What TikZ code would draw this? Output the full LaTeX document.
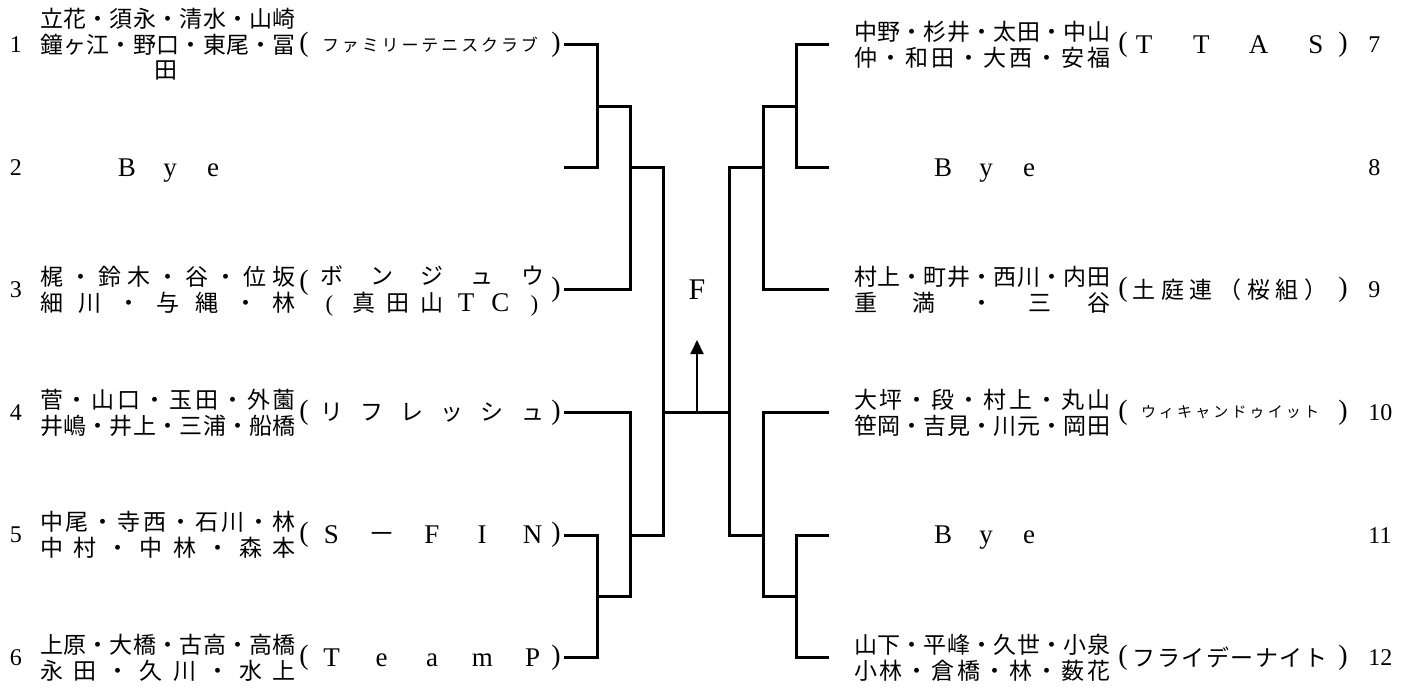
\documentclass[tikz,border=0pt]{standalone}
\usepackage{fontspec}
\setmainfont{Liberation Serif}
\newfontfamily\jp{Noto Sans CJK JP}
\usetikzlibrary{arrows.meta}
\makeatletter
\def\spreadit#1{\spread@a#1\@nil}
\def\spread@a#1{\ifx\@nil#1\else#1\expandafter\spread@b\fi}
\def\spread@b#1{\ifx\@nil#1\else\hfill#1\expandafter\spread@b\fi}
\def\spreadw#1{\spread@c#1\@nil}
\def\spread@c#1{\ifx\@nil#1\else\hbox to 11.5pt{\hss#1\hss}\expandafter\spread@d\fi}
\def\spread@d#1{\ifx\@nil#1\else\hfill\hbox to 11.5pt{\hss#1\hss}\expandafter\spread@d\fi}
\makeatother
\newcommand\latf{\rmfamily\fontsize{13.5}{15}\selectfont}
\newcommand\latp{\rmfamily\fontsize{11.5}{13}\selectfont}
\newcommand\lnames[3]{\node[jpf] (#1) at (168,#2) {\makebox[128pt][s]{\spreadit{#3}}};}
\newcommand\rnames[3]{\node[jpf] (#1) at (982,#2) {\makebox[128pt][s]{\spreadit{#3}}};}
\newcommand\lteam[3]{\node[jpf] (#1) at (432,#2) {\makebox[112pt][s]{\spreadit{#3}}};}
\newcommand\rteam[3]{\node[jpf] (#1) at (1230,#2) {\makebox[97.5pt][s]{\spreadit{#3}}};}
\tikzset{
  jpf/.style={font=\jp\fontsize{11.5}{13}\selectfont, inner sep=0pt},
  jps/.style={font=\jp\fontsize{8.5}{10}\selectfont, inner sep=0pt},
  jpxs/.style={font=\jp\fontsize{7.5}{9}\selectfont, inner sep=0pt},
  lat/.style={font=\latf, inner sep=0pt},
  num/.style={font=\fontsize{12}{14}\selectfont, inner sep=0pt},
  paren/.style={font=\fontsize{14}{16}\selectfont, inner sep=0pt},
  bk/.style={line width=1.5pt},
  arr/.style={line width=1pt, -{Triangle[width=6.5pt,length=7pt]}},
}
\begin{document}
\begin{tikzpicture}[x=0.5pt,y=-0.5pt]
\useasboundingbox (0,0) rectangle (1407,686);
% ---------- left numbers
\node[num] (n1) at (16,44.7) {1};
\node[num] (n2) at (16,167.3) {2};
\node[num] (n3) at (16,289.9) {3};
\node[num] (n4) at (16,412.5) {4};
\node[num] (n5) at (16,535.1) {5};
\node[num] (n6) at (16,657.7) {6};
% ---------- right numbers
\node[num,anchor=west] (n7) at (1368,44.7) {7};
\node[num,anchor=west] (n8) at (1368,167.3) {8};
\node[num,anchor=west] (n9) at (1368,289.9) {9};
\node[num,anchor=west] (n10) at (1368,412.5) {10};
\node[num,anchor=west] (n11) at (1368,535.1) {11};
\node[num,anchor=west] (n12) at (1368,657.7) {12};
% ---------- entry 1
\lnames{a1}{18.7}{立花・須永・清水・山崎}
\lnames{b1}{44.7}{鐘ヶ江・野口・東尾・冨}
\node[jpf] (c1) at (166,70.7) {田};
\node[paren] (p1) at (304,44.7) {(};
\node[jps] (t1) at (430,44.7) {\makebox[108pt][s]{\spreadit{ファミリーテニスクラブ}}};
\node[paren] (q1) at (556,44.7) {)};
% ---------- entry 2
\node[lat,anchor=base] (by2a) at (127,176) {B};
\node[lat,anchor=base] (by2b) at (170,176) {y};
\node[lat,anchor=base] (by2c) at (213,176) {e};
% ---------- entry 3
\lnames{a3}{276.9}{梶・鈴木・谷・位坂}
\lnames{b3}{302.9}{細川・与縄・林}
\node[paren] (p3) at (304,283) {(};
\lteam{t3}{276}{ボンジュウ}
\node[jpf] (u3) at (432,304.5) {\makebox[114pt][s]{\hbox to 11.5pt{\hss\latp(\hss}\hfill 真\hfill 田\hfill 山\hfill\hbox to 11.5pt{\hss\latf T\hss}\hfill\hbox to 11.5pt{\hss\latf C\hss}\hfill\hbox to 11.5pt{\hss\latp)\hss}}};
\node[paren] (q3) at (556,289.9) {)};
% ---------- entry 4
\lnames{a4}{399.5}{菅・山口・玉田・外薗}
\lnames{b4}{425.5}{井嶋・井上・三浦・船橋}
\node[paren] (p4) at (304,412.5) {(};
\lteam{t4}{412.5}{リフレッシュ}
\node[paren] (q4) at (556,412.5) {)};
% ---------- entry 5
\lnames{a5}{522.1}{中尾・寺西・石川・林}
\lnames{b5}{548.1}{中村・中林・森本}
\node[paren] (p5) at (304,535.1) {(};
\node[lat] (t5) at (432,535.1) {\makebox[112pt][s]{\spreadw{S{\jp －}FIN}}};
\node[paren] (q5) at (556,535.1) {)};
% ---------- entry 6
\lnames{a6}{644.7}{上原・大橋・古高・高橋}
\lnames{b6}{670.7}{永田・久川・水上}
\node[paren] (p6) at (304,657.7) {(};
\node[lat] (t6) at (432,657.7) {\makebox[112pt][s]{\spreadw{TeamP}}};
\node[paren] (q6) at (556,657.7) {)};
% ---------- entry 7
\rnames{a7}{31.7}{中野・杉井・太田・中山}
\rnames{b7}{57.7}{仲・和田・大西・安福}
\node[paren] (p7) at (1123,44.7) {(};
\node[lat] (t7) at (1230,44.7) {\makebox[97.5pt][s]{\spreadw{TTAS}}};
\node[paren] (q7) at (1343,44.7) {)};
% ---------- entry 8
\node[lat,anchor=base] (by8a) at (943,176) {B};
\node[lat,anchor=base] (by8b) at (986,176) {y};
\node[lat,anchor=base] (by8c) at (1029,176) {e};
% ---------- entry 9
\rnames{a9}{276.9}{村上・町井・西川・内田}
\rnames{b9}{302.9}{重満・三谷}
\node[paren] (p9) at (1123,289.9) {(};
\rteam{t9}{289.9}{土庭連（桜組）}
\node[paren] (q9) at (1343,289.9) {)};
% ---------- entry 10
\rnames{a10}{399.5}{大坪・段・村上・丸山}
\rnames{b10}{425.5}{笹岡・吉見・川元・岡田}
\node[paren] (p10) at (1123,412.5) {(};
\node[jpxs] (t10) at (1230,412.5) {\makebox[89pt][s]{\spreadit{ウィキャンドゥイット}}};
\node[paren] (q10) at (1343,412.5) {)};
% ---------- entry 11
\node[lat,anchor=base] (by11a) at (943,543.8) {B};
\node[lat,anchor=base] (by11b) at (986,543.8) {y};
\node[lat,anchor=base] (by11c) at (1029,543.8) {e};
% ---------- entry 12
\rnames{a12}{644.7}{山下・平峰・久世・小泉}
\rnames{b12}{670.7}{小林・倉橋・林・薮花}
\node[paren] (p12) at (1123,657.7) {(};
\rteam{t12}{657.7}{フライデーナイト}
\node[paren] (q12) at (1343,657.7) {)};
% ---------- bracket end points
\coordinate (e1) at (564,44.7);
\coordinate (e2) at (564,167.3);
\coordinate (e3) at (564,289.9);
\coordinate (e4) at (564,412.5);
\coordinate (e5) at (564,535.1);
\coordinate (e6) at (564,657.7);
\coordinate (e7) at (829,44.7);
\coordinate (e8) at (829,167.3);
\coordinate (e9) at (829,289.9);
\coordinate (e10) at (829,412.5);
\coordinate (e11) at (829,535.1);
\coordinate (e12) at (829,657.7);
% left bracket
\draw[bk] (e1) -- (597,44.7) -- (597,167.3) -- (e2);
\draw[bk] (597,106) -- (630,106) -- (630,289.9) -- (e3);
\draw[bk] (630,167.3) -- (663,167.3) -- (663,535.1) -- (630,535.1);
\draw[bk] (e4) -- (630,412.5) -- (630,596.4) -- (597,596.4);
\draw[bk] (e5) -- (597,535.1) -- (597,657.7) -- (e6);
% right bracket
\draw[bk] (e7) -- (796,44.7) -- (796,167.3) -- (e8);
\draw[bk] (796,106) -- (763,106) -- (763,289.9) -- (e9);
\draw[bk] (763,167.3) -- (729,167.3) -- (729,535.1) -- (763,535.1);
\draw[bk] (e10) -- (763,412.5) -- (763,596.4) -- (796,596.4);
\draw[bk] (e11) -- (796,535.1) -- (796,657.7) -- (e12);
% final
\coordinate (fl) at (663,412.5);
\coordinate (fr) at (729,412.5);
\draw[bk] (fl) -- (fr);
\node[font=\fontsize{15}{17}\selectfont, inner sep=0pt] (F) at (697,290) {F};
\coordinate (a0) at (697,411);
\coordinate (a1) at (697,340);
\draw[arr] (a0) -- (a1);
\end{tikzpicture}
\end{document}
